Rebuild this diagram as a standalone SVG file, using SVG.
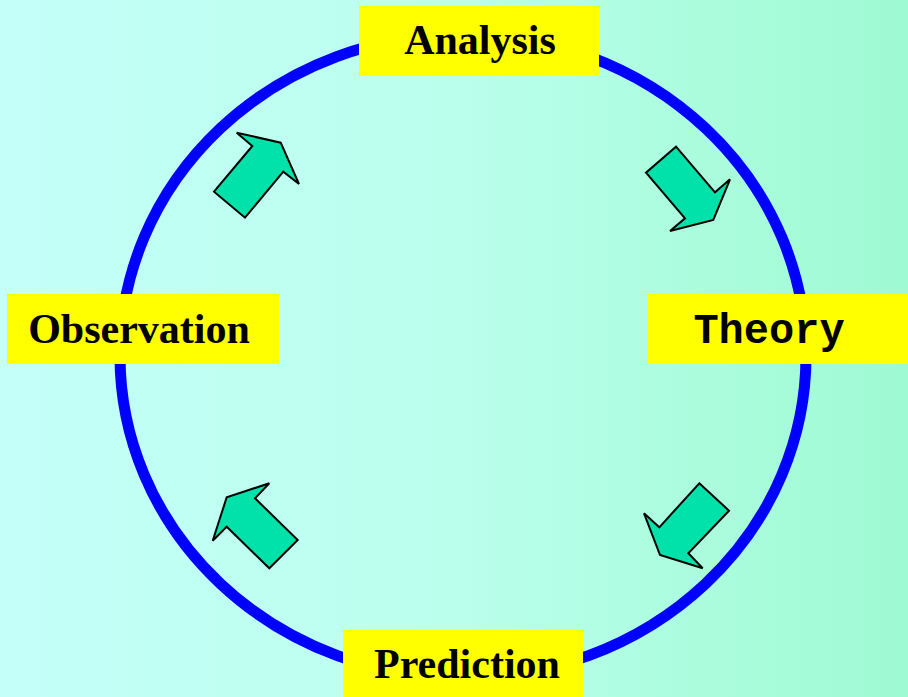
<svg xmlns="http://www.w3.org/2000/svg" width="908" height="697" viewBox="0 0 908 697">
<defs>
<linearGradient id="bg" x1="0" y1="0" x2="1" y2="0">
<stop offset="0" stop-color="#C4FFF9"/>
<stop offset="0.5" stop-color="#BAFFEC"/>
<stop offset="1" stop-color="#9EFAD2"/>
</linearGradient>
<style>
.box{fill:#FFFF00}
.lbl{font-family:"Liberation Serif","Times New Roman",serif;font-weight:bold;font-size:42px;fill:#000}
.mono{font-family:"Liberation Mono","Courier New",monospace;font-weight:bold;font-size:42px;fill:#000}
.arr{fill:#00E2AA;stroke:#000;stroke-width:2;stroke-linejoin:miter}
</style>
</defs>
<rect x="0" y="0" width="908" height="697" fill="url(#bg)"/>
<g id="connectors">
<ellipse cx="463" cy="356" rx="343" ry="322" fill="none" stroke="#0000FF" stroke-width="11"/>
<polygon class="arr" points="236.7,132.7 280.7,142.7 299,184 283.3,171.7 245,217.7 214,191.7 252.3,146"/>
<polygon class="arr" points="676,146.7 715,192.3 730,179.3 713.3,220 670,231 685,218.3 646,172.7"/>
<polygon class="arr" points="699.3,483.3 729,510.7 688.3,553.3 702.7,568.3 660,555 644,513.3 659.3,527.3"/>
<polygon class="arr" points="269.3,483.3 255,498.3 297.7,540 269.3,568.3 226.7,526.7 212.7,540.7 226.7,497.3"/>
</g>
<g id="analysis">
<rect class="box" x="359" y="6" width="240" height="70"/>
<text class="lbl" x="480" y="54" text-anchor="middle">Analysis</text>
</g>
<g id="theory">
<rect class="box" x="647" y="294" width="261" height="70"/>
<text class="mono" x="769" y="343" text-anchor="middle">Theory</text>
</g>
<g id="prediction">
<rect class="box" x="343" y="630" width="240" height="67"/>
<text class="lbl" x="467" y="678" text-anchor="middle">Prediction</text>
</g>
<g id="observation">
<rect class="box" x="7" y="294" width="272" height="70"/>
<text class="lbl" x="139" y="343" text-anchor="middle">Observation</text>
</g>
</svg>
